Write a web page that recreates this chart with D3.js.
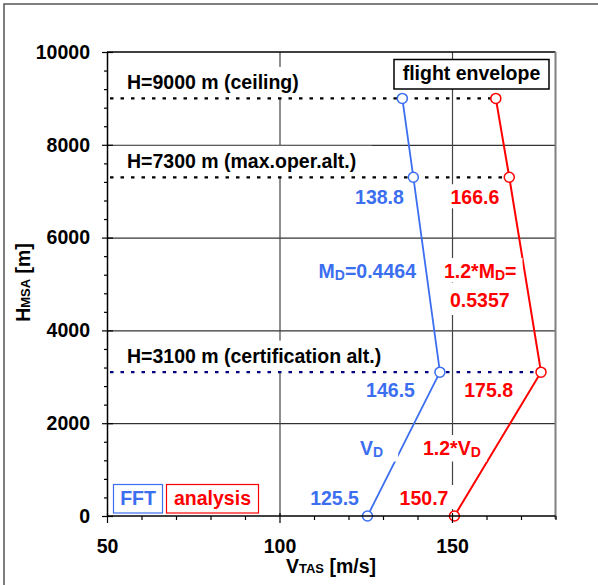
<!DOCTYPE html>
<html><head><meta charset="utf-8">
<script src="https://cdn.jsdelivr.net/npm/d3@7/dist/d3.min.js"></script>
<style>
html,body{margin:0;padding:0;background:#fff;}
svg text{font-family:Arial,"Liberation Sans",sans-serif;font-weight:bold;}
</style></head>
<body>
<svg id="c" width="598" height="585"></svg>
<script>
// ---- data ----
const altitudes = [0, 3100, 7300, 9000];
const fftVD = [125.5, 146.5, 138.8, 135.6];
const analysisVD = [150.7, 175.8, 166.6, 162.7];
const refAltitudes = [9000, 7300, 3100];
const refLabels = ["H=9000 m (ceiling)", "H=7300 m (max.oper.alt.)", "H=3100 m (certification alt.)"];
const xTickValues = [50, 100, 150];
const yTickValues = [0, 2000, 4000, 6000, 8000, 10000];
const xMinorTicks = [60, 70, 80, 90, 110, 120, 130, 140, 160, 170, 180];
const yMinorTicks = [400, 800, 1200, 1600, 2400, 2800, 3200, 3600, 4400, 4800, 5200, 5600, 6400, 6800, 7200, 7600, 8400, 8800, 9200, 9600];

const BLUE = "#3c6ef0", RED = "#ff0000", NAVY = "#000080";
const FS = 19.5;

const svg = d3.select("#c");
const X0 = 107, X1 = 555.5, YB = 516, YT = 52;
const x = d3.scaleLinear().domain([50, 180]).range([X0, X1]);
const y = d3.scaleLinear().domain([0, 10000]).range([YB, YT]);

// outer frame
svg.append("rect").attr("x", 4).attr("y", 4).attr("width", 700).attr("height", 700)
  .attr("fill", "none").attr("stroke", "#555").attr("stroke-width", 1.5);

// gridlines
const gGridY = svg.append("g").attr("transform", `translate(${X0},0)`)
  .call(d3.axisLeft(y).tickValues([2000, 4000, 6000, 8000]).tickSize(-(X1 - X0)).tickFormat(""));
gGridY.select(".domain").remove();
gGridY.selectAll("line").attr("stroke", "#000").attr("stroke-width", 1);
const gGridX = svg.append("g").attr("transform", `translate(0,${YB})`)
  .call(d3.axisBottom(x).tickValues([100, 150]).tickSize(-(YB - YT)).tickFormat(""));
gGridX.select(".domain").remove();
gGridX.selectAll("line").attr("stroke", "#444").attr("stroke-width", 1.2);

// plot border top/right
svg.append("line").attr("x1", X0).attr("x2", X1).attr("y1", YT).attr("y2", YT).attr("stroke", "#000").attr("stroke-width", 1.3);
svg.append("line").attr("x1", X1).attr("x2", X1).attr("y1", YT).attr("y2", YB + 3).attr("stroke", "#808080").attr("stroke-width", 2);

// helper: text with white box
function boxedText(parent, parts, ax, ay, anchor, color, pad) {
  const g = parent.append("g");
  const t = g.append("text").attr("x", ax).attr("y", ay).attr("text-anchor", anchor)
    .attr("fill", color).style("font-size", FS + "px");
  parts.forEach(p => {
    const ts = t.append("tspan").text(p.t);
    if (p.sub) ts.style("font-size", "14px").attr("dy", 1.5);
    else if (p.after) ts.attr("dy", -1.5);
  });
  const bb = t.node().getBBox();
  g.insert("rect", "text").attr("x", bb.x - pad.l).attr("y", bb.y - pad.t)
    .attr("width", bb.width + pad.l + pad.r).attr("height", bb.height + pad.t + pad.b)
    .attr("fill", "#fff");
  return g;
}

// reference altitude labels
const refG = svg.append("g");
refAltitudes.forEach((h, i) => {
  const base = y(h) - 9.5;
  const g = refG.append("g");
  const t = g.append("text").attr("x", X0 + 20).attr("y", base).attr("fill", "#000")
    .style("font-size", FS + "px").text(refLabels[i]);
  const bb = t.node().getBBox();
  g.insert("rect", "text").attr("x", X0 + 1.5).attr("y", base - 22)
    .attr("width", bb.x + bb.width + 14 - X0).attr("height", 31).attr("fill", "#fff");
});

// dotted reference lines (from axis to the analysis point)
refAltitudes.forEach((h, i) => {
  const idx = altitudes.indexOf(h);
  svg.append("line").attr("x1", X0 + 3).attr("x2", x(analysisVD[idx]))
    .attr("y1", y(h)).attr("y2", y(h))
    .attr("stroke", h === 3100 ? NAVY : "#000").attr("stroke-width", 2.2)
    .attr("stroke-dasharray", "3.5,7");
});

// data lines
const pts = (vals) => vals.map((v, i) => [v, altitudes[i]]);
const line = d3.line().x(d => x(d[0])).y(d => y(d[1]));
svg.append("path").datum(pts(fftVD)).attr("d", line).attr("fill", "none").attr("stroke", BLUE).attr("stroke-width", 1.8);
svg.append("path").datum(pts(analysisVD)).attr("d", line).attr("fill", "none").attr("stroke", RED).attr("stroke-width", 2);

// data labels
const P = {l: 4, r: 6, t: 2, b: 0};
const labG = svg.append("g");
boxedText(labG, [{t: fftVD[2].toFixed(1)}], x(fftVD[2]) - 9.5, y(7300) + 27, "end", BLUE, P);
boxedText(labG, [{t: analysisVD[2].toFixed(1)}], x(analysisVD[2]) - 10, y(7300) + 27, "end", RED, P);
boxedText(labG, [{t: "M"}, {t: "D", sub: true}, {t: "=0.4464", after: true}], 416, 278, "end", BLUE, P);
boxedText(labG, [{t: "1.2*M"}, {t: "D", sub: true}, {t: "=", after: true}], 444, 278, "start", RED, {l: 4, r: 6, t: 2, b: 0});
boxedText(labG, [{t: "0.5357"}], 450, 307, "start", RED, {l: 8, r: 8, t: 6, b: 4});
boxedText(labG, [{t: fftVD[1].toFixed(1)}], x(fftVD[1]) - 25, y(3100) + 25, "end", BLUE, P);
boxedText(labG, [{t: analysisVD[1].toFixed(1)}], x(analysisVD[1]) - 28, y(3100) + 25, "end", RED, P);
boxedText(labG, [{t: "V"}, {t: "D", sub: true}], 360, 455, "start", BLUE, {l: 4, r: 15, t: 2, b: 2});
boxedText(labG, [{t: "1.2*V"}, {t: "D", sub: true}], 423, 455, "start", RED, {l: 4, r: 6, t: 2, b: 2});
boxedText(labG, [{t: fftVD[0].toFixed(1)}], x(fftVD[0]) - 8.5, y(0) - 11, "end", BLUE, P);
boxedText(labG, [{t: analysisVD[0].toFixed(1)}], x(analysisVD[0]) - 6, y(0) - 11, "end", RED, P);

// markers
svg.append("g").selectAll("circle").data(pts(fftVD)).join("circle")
  .attr("cx", d => x(d[0])).attr("cy", d => y(d[1])).attr("r", 5)
  .attr("fill", "#fff").attr("stroke", BLUE).attr("stroke-width", 1.5);
svg.append("g").selectAll("circle").data(pts(analysisVD)).join("circle")
  .attr("cx", d => x(d[0])).attr("cy", d => y(d[1])).attr("r", 5)
  .attr("fill", "#fff").attr("stroke", RED).attr("stroke-width", 1.5);

// axes
function styleAxis(g) {
  g.selectAll("line").attr("stroke", "#000").attr("stroke-width", 1.2);
  g.select(".domain").attr("stroke", "#000").attr("stroke-width", 1.5);
  g.selectAll("text").attr("fill", "#000").style("font-size", FS + "px")
    .style("font-family", "Arial, 'Liberation Sans', sans-serif").style("font-weight", "bold");
}
const gL = svg.append("g").attr("transform", `translate(${X0},0)`)
  .call(d3.axisLeft(y).tickValues(yTickValues).tickSize(5).tickSizeOuter(0).tickPadding(12).tickFormat(d3.format("d")));
styleAxis(gL);
const gLi = svg.append("g").attr("transform", `translate(${X0},0)`)
  .call(d3.axisLeft(y).tickValues(yTickValues).tickSize(-6).tickFormat(""));
gLi.select(".domain").remove(); styleAxis(gLi);
const gLm = svg.append("g").attr("transform", `translate(${X0},0)`)
  .call(d3.axisLeft(y).tickValues(yMinorTicks).tickSize(3).tickFormat(""));
gLm.select(".domain").remove(); styleAxis(gLm);

const gB = svg.append("g").attr("transform", `translate(0,${YB})`)
  .call(d3.axisBottom(x).tickValues(xTickValues).tickSize(7).tickSizeOuter(0).tickPadding(16));
styleAxis(gB);
gB.select(".domain").attr("d", `M${X0},0H${X1}`);
const gBi = svg.append("g").attr("transform", `translate(0,${YB})`)
  .call(d3.axisBottom(x).tickValues(xTickValues).tickSize(-3).tickFormat(""));
gBi.select(".domain").remove(); styleAxis(gBi);
const gBm = svg.append("g").attr("transform", `translate(0,${YB})`)
  .call(d3.axisBottom(x).tickValues(xMinorTicks).tickSize(4).tickFormat(""));
gBm.select(".domain").remove(); styleAxis(gBm);

// axis titles
const xt = svg.append("text").attr("x", 331).attr("y", 573).attr("text-anchor", "middle")
  .attr("fill", "#000").style("font-size", FS + "px");
xt.append("tspan").text("V");
xt.append("tspan").text("TAS").style("font-size", "13px");
xt.append("tspan").text(" [m/s]");
const yt = svg.append("text").attr("transform", "translate(30,282.5) rotate(-90)").attr("text-anchor", "middle")
  .attr("fill", "#000").style("font-size", FS + "px");
yt.append("tspan").text("H");
yt.append("tspan").text("MSA").style("font-size", "13px");
yt.append("tspan").text(" [m]");

// flight envelope box
svg.append("rect").attr("x", 394).attr("y", 59.5).attr("width", 155).attr("height", 29.5)
  .attr("fill", "#fff").attr("stroke", "#000").attr("stroke-width", 1.5);
svg.append("text").attr("x", 471.5).attr("y", 80).attr("text-anchor", "middle").attr("fill", "#000")
  .style("font-size", FS + "px").text("flight envelope");

// legend boxes
svg.append("rect").attr("x", 113.5).attr("y", 484.5).attr("width", 49).attr("height", 28.5)
  .attr("fill", "#fff").attr("stroke", BLUE).attr("stroke-width", 1.2);
svg.append("text").attr("x", 138).attr("y", 505).attr("text-anchor", "middle").attr("fill", BLUE)
  .style("font-size", FS + "px").text("FFT");
svg.append("rect").attr("x", 166.5).attr("y", 484.5).attr("width", 92).attr("height", 28.5)
  .attr("fill", "#fff").attr("stroke", RED).attr("stroke-width", 1.2);
svg.append("text").attr("x", 212.5).attr("y", 505).attr("text-anchor", "middle").attr("fill", RED)
  .style("font-size", FS + "px").text("analysis");
</script>
</body></html>
